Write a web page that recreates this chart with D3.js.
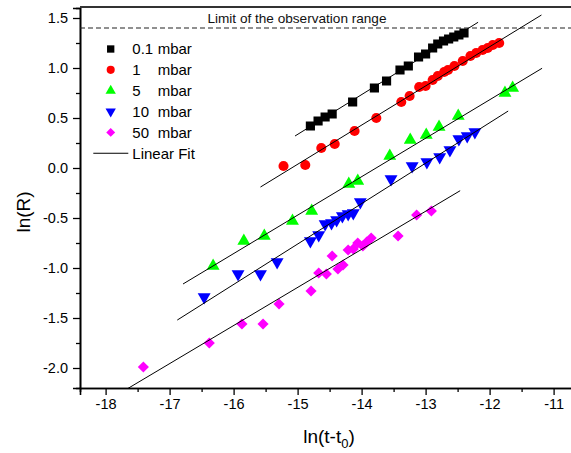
<!DOCTYPE html>
<html>
<head>
<meta charset="utf-8">
<script src="https://cdn.jsdelivr.net/npm/d3@7"></script>
<style>
  html, body { margin: 0; padding: 0; background: #fff; }
  svg { display: block; font-family: "Liberation Sans", Arial, sans-serif; }
</style>
</head>
<body>
<svg id="chart" width="571" height="453"></svg>
<script>
// ln(R) versus ln(t - t0) for five chamber pressures

const seriesNames = ["0.1", "1", "5", "10", "50"];
const seriesColors = ["#000000", "#ff0000", "#00ff00", "#0000ff", "#ff00ff"];
const seriesShapes = ["square", "circle", "triangle", "triangleDown", "diamond"];

const p01 = [
  [-14.80, 0.42], [-14.68, 0.47], [-14.57, 0.51], [-14.46, 0.54], [-14.14, 0.66],
  [-13.80, 0.80], [-13.61, 0.87], [-13.40, 0.98], [-13.27, 1.02], [-13.11, 1.11],
  [-13.00, 1.14], [-12.89, 1.20], [-12.81, 1.24], [-12.72, 1.27], [-12.64, 1.29],
  [-12.56, 1.31], [-12.48, 1.33], [-12.40, 1.35]
];
const p1 = [
  [-15.22, 0.02], [-14.88, 0.03], [-14.63, 0.20], [-14.42, 0.24], [-14.11, 0.37],
  [-13.77, 0.50], [-13.38, 0.66], [-13.25, 0.72], [-13.10, 0.81], [-13.00, 0.82],
  [-12.89, 0.88], [-12.81, 0.92], [-12.71, 0.96], [-12.65, 0.98], [-12.55, 1.02],
  [-12.42, 1.07], [-12.30, 1.12], [-12.21, 1.15], [-12.11, 1.18], [-12.03, 1.20],
  [-11.95, 1.23], [-11.85, 1.25]
];
const p5 = [
  [-16.32, -0.98], [-15.84, -0.73], [-15.52, -0.68], [-15.08, -0.53], [-14.78, -0.43],
  [-14.20, -0.16], [-14.06, -0.13], [-13.56, 0.12], [-13.24, 0.28], [-12.99, 0.33],
  [-12.79, 0.41], [-12.49, 0.52], [-11.76, 0.75], [-11.64, 0.80]
];
const p10 = [
  [-16.46, -1.29], [-15.93, -1.06], [-15.58, -1.06], [-15.32, -0.94], [-14.80, -0.73],
  [-14.67, -0.67], [-14.57, -0.56], [-14.47, -0.55], [-14.39, -0.52], [-14.30, -0.48],
  [-14.21, -0.46], [-14.13, -0.45], [-14.02, -0.34], [-13.54, -0.11], [-13.21, 0.02],
  [-12.98, 0.06], [-12.78, 0.11], [-12.62, 0.18], [-12.48, 0.29], [-12.35, 0.32],
  [-12.23, 0.36]
];
const p50 = [
  [-17.41, -1.99], [-16.38, -1.75], [-15.87, -1.56], [-15.54, -1.56], [-15.29, -1.36],
  [-14.79, -1.23], [-14.67, -1.05], [-14.55, -1.06], [-14.46, -0.88], [-14.37, -1.01],
  [-14.29, -0.97], [-14.21, -0.82], [-14.13, -0.81], [-14.06, -0.75], [-13.98, -0.78],
  [-13.92, -0.74], [-13.85, -0.70], [-13.43, -0.68], [-13.14, -0.47], [-12.91, -0.43]
];
const seriesData = [p01, p1, p5, p10, p50];

// Linear fits: ln(R) = intercept + slope * ln(t - t0), drawn over [fitFrom, fitTo]
const fitSlope     = [0.3976, 0.3918, 0.3845, 0.4043, 0.3809];
const fitIntercept = [6.300, 5.914, 5.296, 5.304, 4.519];
const fitFrom      = [-15.04, -15.58, -16.79, -16.88, -17.70];
const fitTo        = [-12.18, -11.19, -11.18, -11.71, -12.46];

const observationLimit = 1.4;
const xTicks = [-18, -17, -16, -15, -14, -13, -12, -11];
const yTicks = [-2.0, -1.5, -1.0, -0.5, 0.0, 0.5, 1.0, 1.5];

const svg = d3.select("#chart");
const plotLeft = 80, plotRight = 579.2, plotTop = 8, plotBottom = 388;

const x = d3.scaleLinear().domain([-18.4, -10.6]).range([plotLeft, plotRight]);
const y = d3.scaleLinear().domain([-2.2, 1.6]).range([plotBottom, plotTop]);

svg.append("defs").append("clipPath").attr("id", "plotClip")
  .append("rect").attr("x", plotLeft).attr("y", plotTop)
  .attr("width", plotRight - plotLeft).attr("height", plotBottom - plotTop);

// Tick labels use a plain hyphen for the minus sign
const hyphen = f => v => f(v).replace("\u2212", "-");

// Axes
const xAxis = d3.axisBottom(x).tickValues(xTicks).tickFormat(hyphen(d3.format("d"))).tickSize(7).tickPadding(4);
const xMinor = d3.axisBottom(x).tickValues(d3.range(-17.5, -10.5, 1)).tickFormat("").tickSize(4);
const yAxis = d3.axisLeft(y).tickValues(yTicks).tickFormat(hyphen(d3.format(".1f"))).tickSize(7).tickPadding(5);
const yMinor = d3.axisLeft(y).tickValues(d3.range(-1.75, 1.6, 0.5)).tickFormat("").tickSize(4);

function styleAxis(g) {
  g.select(".domain").attr("stroke", "#000").attr("stroke-width", 1.6);
  g.selectAll(".tick line").attr("stroke", "#000").attr("stroke-width", 1.3);
  g.selectAll(".tick text").attr("fill", "#000").style("font-size", "14.5px")
    .style("font-family", "'Liberation Sans', Arial, sans-serif");
}

svg.append("g").attr("transform", `translate(0,${plotBottom})`).call(xMinor).call(styleAxis);
svg.append("g").attr("transform", `translate(0,${plotBottom})`).call(xAxis).call(styleAxis);
svg.append("g").attr("transform", `translate(${plotLeft},0)`).call(yMinor).call(styleAxis);
svg.append("g").attr("transform", `translate(${plotLeft},0)`).call(yAxis).call(styleAxis);

// Top frame line
svg.append("line")
  .attr("x1", plotLeft).attr("x2", plotRight).attr("y1", plotTop - 1).attr("y2", plotTop - 1)
  .attr("stroke", "#333").attr("stroke-width", 2.2);

// Observation limit
svg.append("line")
  .attr("x1", plotLeft).attr("x2", plotRight)
  .attr("y1", y(observationLimit)).attr("y2", y(observationLimit))
  .attr("stroke", "#222").attr("stroke-width", 1.1).attr("stroke-dasharray", "5,3");
svg.append("text")
  .attr("x", x(-15.01)).attr("y", 22.5)
  .attr("text-anchor", "middle").style("font-size", "13.6px").attr("fill", "#111")
  .text("Limit of the observation range");

// Marker shapes
function markerPath(shape, scale) {
  const s = scale || 1;
  switch (shape) {
    case "square": return d3.symbol(d3.symbolSquare, 84 * s * s)();
    case "circle": return d3.symbol(d3.symbolCircle, 80 * s * s)();
    case "triangle":
    case "triangleDown": return d3.symbol(d3.symbolTriangle, 72 * s * s)();
    case "diamond": return d3.symbol(d3.symbolSquare, 62 * s * s)();
  }
}
function markerRotation(shape) {
  if (shape === "triangleDown") return 180;
  if (shape === "diamond") return 45;
  return 0;
}

const plot = svg.append("g").attr("clip-path", "url(#plotClip)");

seriesData.forEach((data, i) => {
  plot.append("g").selectAll("path")
    .data(data)
    .join("path")
    .attr("d", markerPath(seriesShapes[i]))
    .attr("transform", d => `translate(${x(d[0])},${y(d[1])}) rotate(${markerRotation(seriesShapes[i])})`)
    .attr("fill", seriesColors[i]);
});

// Fit lines
seriesData.forEach((data, i) => {
  const ends = [fitFrom[i], fitTo[i]];
  plot.append("path")
    .datum(ends)
    .attr("d", d3.line().x(v => x(v)).y(v => y(fitIntercept[i] + fitSlope[i] * v)))
    .attr("fill", "none").attr("stroke", "#000").attr("stroke-width", 1);
});

// Legend
const legendX = 110.7, legendTextX = 132.3, legendY0 = 49, legendStep = 20.85;
const legend = svg.append("g").style("font-size", "15px");
seriesNames.forEach((name, i) => {
  const ly = legendY0 + i * legendStep;
  legend.append("path")
    .attr("d", markerPath(seriesShapes[i], 0.8))
    .attr("transform", `translate(${legendX},${ly}) rotate(${markerRotation(seriesShapes[i])})`)
    .attr("fill", seriesColors[i]);
  legend.append("text").attr("x", legendTextX).attr("y", ly).attr("dy", "0.36em").text(name);
  legend.append("text").attr("x", 157.7).attr("y", ly).attr("dy", "0.36em").text("mbar");
});
const fitLy = legendY0 + 5 * legendStep;
legend.append("line").attr("x1", 93.3).attr("x2", 128.3).attr("y1", fitLy).attr("y2", fitLy)
  .attr("stroke", "#000").attr("stroke-width", 1);
legend.append("text").attr("x", legendTextX).attr("y", fitLy).attr("dy", "0.36em").text("Linear Fit");

// Axis titles
svg.append("text")
  .attr("transform", `translate(29.5,${y(-0.44)}) rotate(-90)`)
  .attr("text-anchor", "middle").style("font-size", "19px")
  .text("ln(R)");

const xt = svg.append("text")
  .attr("x", 329).attr("y", 443)
  .attr("text-anchor", "middle").style("font-size", "19px");
xt.append("tspan").text("ln(t-t");
xt.append("tspan").attr("dy", 5).style("font-size", "13px").text("0");
xt.append("tspan").attr("dy", -5).text(")");
</script>
</body>
</html>
